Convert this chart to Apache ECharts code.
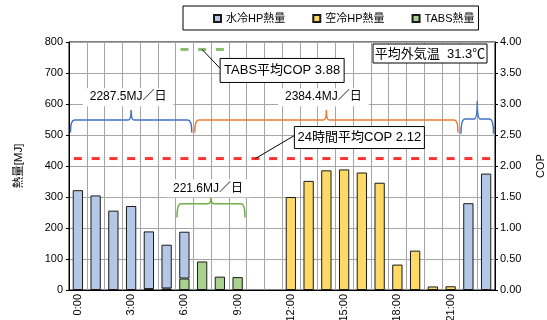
<!DOCTYPE html>
<html>
<head>
<meta charset="utf-8">
<script src="https://cdn.jsdelivr.net/npm/echarts@6/dist/echarts.min.js"></script>
<style>
  html, body { margin: 0; padding: 0; background: #fff; }
  #chart { width: 547px; height: 320px; }
</style>
</head>
<body>
<div id="chart"></div>
<script>
// Hourly heat output per source (MJ) over one day
const hours = ['0:00','1:00','2:00','3:00','4:00','5:00','6:00','7:00','8:00','9:00','10:00','11:00',
               '12:00','13:00','14:00','15:00','16:00','17:00','18:00','19:00','20:00','21:00','22:00','23:00'];
const waterHP = [322, 305, 256, 271, 186, 141, 151, 0, 0, 0, 0, 0, 0, 0, 0, 0, 0, 0, 0, 0, 0, 0, 280, 375.5];
const airHP   = [0, 0, 0, 0, 0, 0, 0, 0, 0, 0, 0, 0, 300, 352, 386, 389, 379, 346, 82, 127, 11.4, 12, 0, 0];
const tabs    = [0, 0, 0, 0, 3, 5, 37, 92, 43, 41.6, 0, 0, 0, 0, 0, 0, 0, 0, 0, 0, 0, 0, 0, 0];

// COP references (right axis)
const tabsCop = 3.88;
const tabsCopHours = [6, 7, 8];
const dailyCop = 2.12;

// Daily totals shown above braces: first hour, last hour, foot / level / tip (MJ), label, label height (MJ)
const braceFrom  = [0, 7, 22, 6];
const braceTo    = [6, 21, 23, 9];
const braceFoot  = [508, 508, 504, 234];
const braceLevel = [548, 548, 552, 278];
const braceTip   = [581, 581, 610, 299];
const braceText  = ['2287.5MJ／日', '2384.4MJ／日', '', '221.6MJ／日'];
const braceTextAt = [622, 622, 0, 328];

const leftTicks = { min: 0, max: 800, step: 100 };
const rightTicks = { min: 0, max: 4, step: 0.5 };

const outdoorText = '平均外気温  31.3℃';
const tabsCopText = 'TABS平均COP 3.88';
const dailyCopText = '24時間平均COP 2.12';

const FONT = "'Liberation Sans', 'Noto Sans CJK JP', sans-serif";
const braceColors = ['#4472c4', '#ed7d31', '#4472c4', '#70ad47'];

// hours without output draw no bar at all
const bars = arr => arr.map(v => (v > 0 ? v : '-'));

const chart = echarts.init(document.getElementById('chart'), null, { renderer: 'canvas' });

const braceData = braceFrom.map((f, i) => [f, braceTo[i], braceFoot[i], braceLevel[i], braceTip[i], braceTextAt[i]]);

function renderBrace(params, api) {
  const i = params.dataIndex;
  const band = api.size([1, 0])[0];
  const x0 = api.coord([api.value(0), 0])[0] - band / 2 + 1.5;
  const x1 = api.coord([api.value(1), 0])[0] + band / 2 - 1.5;
  const yF = api.coord([0, api.value(2)])[1];
  const yL = api.coord([0, api.value(3)])[1];
  const yT = api.coord([0, api.value(4)])[1];
  const xm = (x0 + x1) / 2;
  const r = 4, w = 3;
  const d = `M${x0},${yF} Q${x0},${yL} ${x0 + r},${yL} L${xm - w},${yL} Q${xm},${yL} ${xm},${yT} ` +
            `Q${xm},${yL} ${xm + w},${yL} L${x1 - r},${yL} Q${x1},${yL} ${x1},${yF}`;
  const children = [{
    type: 'path',
    shape: { pathData: d },
    style: { stroke: braceColors[i], lineWidth: 1.5, fill: null }
  }];
  if (braceText[i]) {
    const yLab = api.coord([0, api.value(5)])[1];
    children.push({
      type: 'text',
      z2: 10,
      style: {
        text: braceText[i], x: xm - 3, y: yLab,
        align: 'center', verticalAlign: 'middle',
        font: '12px ' + FONT, fill: '#000',
        backgroundColor: '#fff', padding: [3, 7]
      }
    });
  }
  return { type: 'group', children };
}

chart.setOption({
  animation: false,
  textStyle: { fontFamily: FONT },
  legend: {
    data: ['水冷HP熱量', '空冷HP熱量', 'TABS熱量'],
    left: 183, top: 6,
    padding: [7, 4, 6, 30],
    borderColor: '#000', borderWidth: 1,
    itemWidth: 7, itemHeight: 7, itemGap: 27,
    icon: 'rect',
    textStyle: { fontSize: 11, color: '#000', fontFamily: FONT }
  },
  grid: {
    left: 69, right: 52, top: 42, bottom: 30,
    outerBoundsMode: 'none', containLabel: false,
    show: true, borderColor: '#000', borderWidth: 1
  },
  xAxis: {
    type: 'category',
    data: hours,
    boundaryGap: true,
    axisLine: { lineStyle: { color: '#000', width: 1 } },
    axisTick: { interval: 0, length: 4, lineStyle: { color: '#000' } },
    axisLabel: { interval: 2, rotate: 90, margin: 4, fontSize: 11, color: '#000', fontFamily: FONT },
    splitLine: { show: true, interval: 0, lineStyle: { color: '#a6a6a6', width: 1 } }
  },
  yAxis: [{
    type: 'value',
    min: leftTicks.min, max: leftTicks.max, interval: leftTicks.step,
    name: '熱量[MJ]', nameLocation: 'middle', nameRotate: 90, nameGap: 44,
    nameTextStyle: { fontSize: 11.5, color: '#000', fontFamily: FONT },
    axisLine: { show: true, lineStyle: { color: '#000' } },
    axisTick: { show: true, length: 3, lineStyle: { color: '#000' } },
    axisLabel: { fontSize: 11, color: '#000', margin: 6, fontFamily: FONT },
    splitLine: { show: true, lineStyle: { color: '#a6a6a6', width: 1 } }
  }, {
    type: 'value',
    position: 'right',
    min: rightTicks.min, max: rightTicks.max, interval: rightTicks.step,
    name: 'COP', nameLocation: 'middle', nameRotate: 90, nameGap: 40,
    nameTextStyle: { fontSize: 11, color: '#000', fontFamily: FONT },
    axisLine: { show: true, lineStyle: { color: '#000' } },
    axisTick: { show: true, length: 3, lineStyle: { color: '#000' } },
    axisLabel: { fontSize: 11, color: '#000', margin: 5, fontFamily: FONT, formatter: v => v.toFixed(2) },
    splitLine: { show: false }
  }],
  series: [{
    name: 'TABS熱量', type: 'bar', stack: 'heat', data: bars(tabs), barWidth: '58%',
    itemStyle: { color: '#a9d18e', borderColor: '#1a1a1a', borderWidth: 1 }
  }, {
    name: '水冷HP熱量', type: 'bar', stack: 'heat', data: bars(waterHP), barWidth: '58%',
    itemStyle: { color: '#b4c7e7', borderColor: '#1a1a1a', borderWidth: 1 }
  }, {
    name: '空冷HP熱量', type: 'bar', stack: 'heat', data: bars(airHP), barWidth: '58%',
    itemStyle: { color: '#ffd966', borderColor: '#1a1a1a', borderWidth: 1 }
  }, {
    name: 'dailyCop', type: 'scatter', yAxisIndex: 1,
    data: hours.map(() => dailyCop),
    symbol: 'rect', symbolSize: [8, 3], silent: true,
    itemStyle: { color: '#ff0000' }, z: 5
  }, {
    name: 'tabsCop', type: 'scatter', yAxisIndex: 1,
    data: hours.map((h, i) => tabsCopHours.includes(i) ? tabsCop : '-'),
    symbol: 'rect', symbolSize: [8, 3], silent: true,
    itemStyle: { color: '#70ad47' }, z: 5
  }, {
    name: 'braces', type: 'custom', renderItem: renderBrace, data: braceData,
    encode: { x: 0, y: 2 }, silent: true, z: 6, clip: false
  }]
});

// Callout boxes anchored to the COP marks
const tabsAnchor = chart.convertToPixel({ xAxisIndex: 0, yAxisIndex: 1 }, [tabsCopHours[1], tabsCop]);
const dailyAnchor = chart.convertToPixel({ xAxisIndex: 0, yAxisIndex: 1 }, [10, dailyCop]);
const gridRect = chart.getModel().getComponent('grid').coordinateSystem.getRect();

function callout(anchor, dx, dy, w, h, text) {
  return [{
    type: 'line', z: 100,
    shape: { x1: anchor[0], y1: anchor[1], x2: anchor[0] + dx, y2: anchor[1] + dy + h / 2 - 2 },
    style: { stroke: '#000', lineWidth: 1 }
  }, {
    type: 'rect', z: 100,
    shape: { x: anchor[0] + dx, y: anchor[1] + dy, width: w, height: h },
    style: { fill: '#fff', stroke: '#000', lineWidth: 1 }
  }, {
    type: 'text', z: 101,
    style: {
      text, x: anchor[0] + dx + w / 2, y: anchor[1] + dy + h / 2,
      align: 'center', verticalAlign: 'middle',
      font: '13px ' + FONT, fill: '#000'
    }
  }];
}

chart.setOption({
  graphic: [
    ...callout(tabsAnchor, 18, 9, 124, 24, tabsCopText),
    ...callout(dailyAnchor, 39, -32, 130, 22, dailyCopText),
    {
      type: 'rect', z: 100,
      shape: { x: gridRect.x + gridRect.width - 122, y: gridRect.y + 2, width: 114, height: 19 },
      style: { fill: '#fff', stroke: '#000', lineWidth: 1 }
    }, {
      type: 'text', z: 101,
      style: {
        text: outdoorText, x: gridRect.x + gridRect.width - 65, y: gridRect.y + 12,
        align: 'center', verticalAlign: 'middle',
        font: '13px ' + FONT, fill: '#000'
      }
    }
  ]
});
</script>
</body>
</html>
